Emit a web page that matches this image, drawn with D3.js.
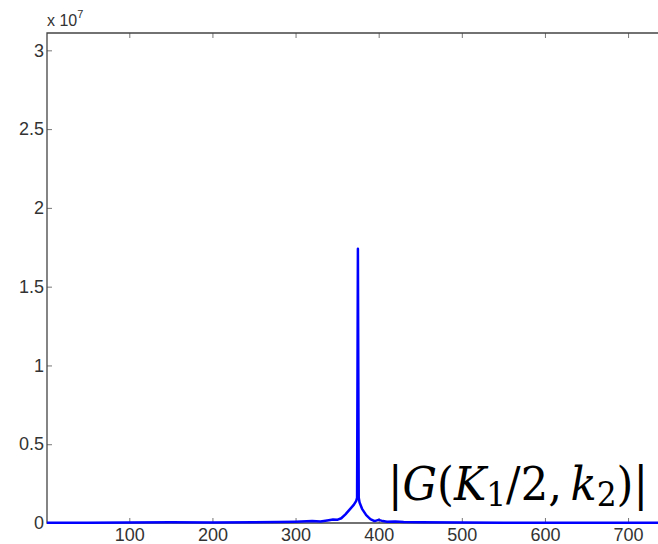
<!DOCTYPE html>
<html>
<head>
<meta charset="utf-8">
<script src="https://cdn.jsdelivr.net/npm/d3@7"></script>
<style>
  body { margin: 0; background: #fff; }
  svg { display: block; }
</style>
</head>
<body>
<script>
// sample index k and |G| in units of 1e7
const kIndex = [1, 50, 100, 150, 200, 250, 280, 300, 320, 330, 340, 345, 350, 355, 360, 365, 370, 373, 374, 375, 376, 377, 380, 385, 390, 395, 400, 405, 410, 420, 430, 450, 500, 550, 600, 650, 700, 736];
const gMag = [0.002, 0.002, 0.003, 0.004, 0.003, 0.005, 0.006, 0.008, 0.012, 0.010, 0.018, 0.022, 0.020, 0.030, 0.055, 0.085, 0.115, 0.14, 0.16, 1.74, 0.16, 0.13, 0.09, 0.05, 0.025, 0.012, 0.02, 0.012, 0.008, 0.01, 0.006, 0.004, 0.003, 0.002, 0.002, 0.002, 0.002, 0.002];
const xTicks = [100, 200, 300, 400, 500, 600, 700];
const yTicks = [0, 0.5, 1, 1.5, 2, 2.5, 3];

const W = 658, H = 544;
const m = { left: 47, top: 33, bottom: 523, right: 658 };

const svg = d3.select("body").append("svg")
  .attr("width", W)
  .attr("height", H);

const x = d3.scaleLinear().domain([1, 736]).range([m.left, m.right]);
const y = d3.scaleLinear().domain([0, 3.11]).range([m.bottom, m.top]);

const data = kIndex.map((k, i) => ({ k: k, v: gMag[i] }));

svg.append("defs").append("clipPath").attr("id", "plot")
  .append("rect").attr("x", m.left).attr("y", m.top - 2)
  .attr("width", m.right - m.left).attr("height", m.bottom - m.top + 4);

const axisColor = "#444";
const labelFont = "Liberation Sans, Arial, sans-serif";

// bottom axis, ticks inward
svg.append("g")
  .attr("transform", `translate(0,${m.bottom})`)
  .call(d3.axisBottom(x).tickValues(xTicks).tickSize(-5).tickPadding(5))
  .call(g => g.select(".domain").remove())
  .call(g => g.selectAll("line").attr("stroke", "#777"))
  .call(g => g.selectAll("text")
    .attr("fill", "#333")
    .attr("font-family", labelFont)
    .attr("font-size", 18));

// top border ticks
svg.append("g")
  .attr("transform", `translate(0,${m.top})`)
  .call(d3.axisTop(x).tickValues(xTicks).tickSize(-5).tickFormat(""))
  .call(g => g.select(".domain").remove())
  .call(g => g.selectAll("line").attr("stroke", "#777"));

// left axis
svg.append("g")
  .attr("transform", `translate(${m.left},0)`)
  .call(d3.axisLeft(y).tickValues(yTicks).tickSize(-5).tickPadding(3).tickFormat(d3.format("")))
  .call(g => g.select(".domain").remove())
  .call(g => g.selectAll("line").attr("stroke", "#777"))
  .call(g => g.selectAll("text")
    .attr("fill", "#333")
    .attr("font-family", labelFont)
    .attr("font-size", 18));

// box
svg.append("path")
  .attr("d", `M${m.right},${m.top}H${m.left}V${m.bottom}H${m.right}`)
  .attr("fill", "none")
  .attr("stroke", axisColor)
  .attr("stroke-width", 1.3);

// exponent label
const expo = svg.append("text")
  .attr("x", 47).attr("y", 26)
  .attr("fill", "#333")
  .attr("font-family", labelFont)
  .attr("font-size", 16);
expo.append("tspan").text("x 10");
expo.append("tspan").attr("dy", -8).attr("font-size", 11).text("7");

// the curve
svg.append("path")
  .datum(data)
  .attr("clip-path", "url(#plot)")
  .attr("fill", "none")
  .attr("stroke", "#0000ff")
  .attr("stroke-width", 2.5)
  .attr("stroke-linejoin", "round")
  .attr("d", d3.line().x(d => x(d.k)).y(d => y(d.v)));

// annotation |G(K1/2, k2)|
const note = svg.append("text")
  .attr("x", 388).attr("y", 500)
  .attr("fill", "#000")
  .attr("font-family", "DejaVu Serif, serif")
  .attr("font-size", 47)
  .attr("textLength", 260)
  .attr("lengthAdjust", "spacingAndGlyphs");
// [text, italic, dy, size]
const parts = [
  ["|", false, 0, 47], ["G", true, 0, 47], ["(", false, 0, 47], ["K", true, 0, 47],
  ["1", false, 6, 34], ["/2,\u2009", false, -6, 47], ["k", true, 0, 47], ["2", false, 6, 34], [")|", false, -6, 47]
];
parts.forEach(([t, it, dy, fs]) => {
  note.append("tspan")
    .attr("font-style", it ? "italic" : "normal")
    .attr("dy", dy)
    .attr("font-size", fs)
    .text(t);
});
</script>
</body>
</html>
